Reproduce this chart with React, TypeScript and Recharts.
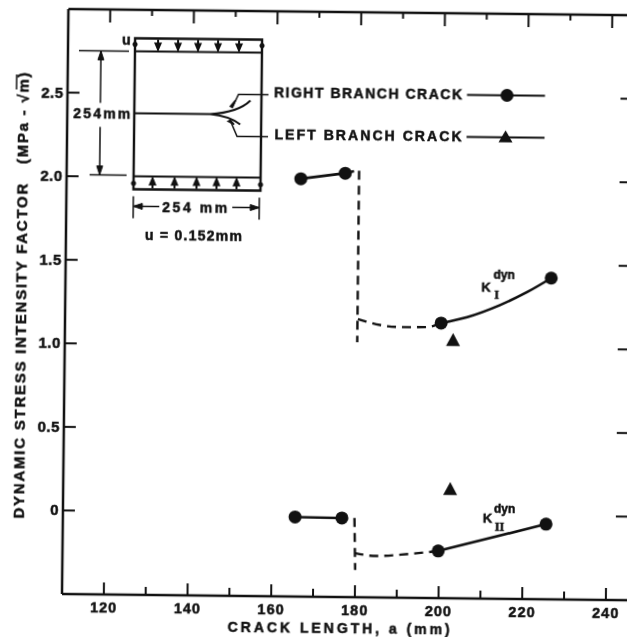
import React from 'react';
import { ComposedChart, Line, XAxis, YAxis, ReferenceLine, Customized } from 'recharts';

// values, corrected for its slight tilt (the whole chart is rotated back below)
const crackTicks = [120, 130, 140, 150, 160, 170, 180, 190, 200, 210, 220, 230, 240];
const stressTicks = [0, 0.5, 1, 1.5, 2, 2.5];
const stressLabels: Record<number, string> = { 0: '0', 0.5: '0.5', 1: '1.0', 1.5: '1.5', 2: '2.0', 2.5: '2.5' };

const k1Before = [{ x: 166, y: 2.0 }, { x: 176.6, y: 2.036 }];
const k1DashTop = [{ x: 176.6, y: 2.036 }, { x: 179.9, y: 2.056 }, { x: 179.9, y: 1.026 }];
const k1DashCurve = [{ x: 180, y: 1.164 }, { x: 185.3, y: 1.13 }, { x: 190.1, y: 1.119 }, { x: 196.5, y: 1.121 }, { x: 199.9, y: 1.146 }];
const k1After = [{ x: 199.9, y: 1.146 }, { x: 206.1, y: 1.183 }, { x: 213.9, y: 1.257 }, { x: 220.4, y: 1.337 }, { x: 226.1, y: 1.422 }];
const k1Right = [{ x: 166, y: 2.0 }, { x: 176.6, y: 2.036 }, { x: 199.9, y: 1.146 }, { x: 226.1, y: 1.422 }];
const k1Left = [{ x: 202.8, y: 1.045 }];

const k2Before = [{ x: 165.5, y: -0.024 }, { x: 176.7, y: -0.027 }];
const k2DashDrop = [{ x: 179.7, y: -0.026 }, { x: 180, y: -0.337 }];
const k2DashCurve = [{ x: 179.8, y: -0.236 }, { x: 185, y: -0.252 }, { x: 192.6, y: -0.238 }, { x: 199.8, y: -0.218 }];
const k2After = [{ x: 199.8, y: -0.218 }, { x: 225.5, y: -0.05 }];
const k2Right = [{ x: 165.5, y: -0.024 }, { x: 176.7, y: -0.027 }, { x: 199.8, y: -0.218 }, { x: 225.5, y: -0.05 }];
const k2Left = [{ x: 202.5, y: 0.154 }];

const INK = '#111';
const FONT = '"Liberation Sans", Arial, sans-serif';
const heavy = { stroke: INK, strokeWidth: 0.5, paintOrder: 'stroke' } as const;

const X_MIN = 110;
const X_MAX = 246;
const Y_MIN = -0.5;
const Y_MAX = 3;

const CircleDot = (p: any) => <circle key={p.index} cx={p.cx} cy={p.cy} r={6.5} fill={INK} />;
const TriangleDot = (p: any) => (
  <path key={p.index} d={`M${p.cx} ${p.cy - 7}L${p.cx + 7} ${p.cy + 6}L${p.cx - 7} ${p.cy + 6}Z`} fill={INK} />
);

const BottomLabel = (p: any) =>
  p.payload.value % 20 === 0 ? (
    <text x={p.x} y={p.y + 18} textAnchor="middle" fontFamily={FONT} fontWeight={700} fontSize={14.5} fill={INK} letterSpacing={1} {...heavy}>
      {p.payload.value}
    </text>
  ) : (
    <g />
  );

const LeftLabel = (p: any) => (
  <text x={p.x - 4} y={p.y + 5} textAnchor="end" fontFamily={FONT} fontWeight={700} fontSize={15} fill={INK} letterSpacing={0.5} {...heavy}>
    {stressLabels[p.payload.value]}
  </text>
);

const label = (x: number, y: number, s: string, size = 14, anchor: 'start' | 'middle' = 'start', len?: number, family = FONT) => (
  <text x={x} y={y} fontFamily={family} fontWeight={700} fontSize={size} fill={INK} textAnchor={anchor} textLength={len} lengthAdjust="spacing" {...heavy}>
    {s}
  </text>
);

// plot box in chart pixels, for the inward tick marks
const PLOT = { left: 62, right: 631, top: 9, bottom: 594 };
const px = (t: number) => PLOT.left + ((t - X_MIN) / (X_MAX - X_MIN)) * (PLOT.right - PLOT.left);
const py = (v: number) => PLOT.bottom - ((v - Y_MIN) / (Y_MAX - Y_MIN)) * (PLOT.bottom - PLOT.top);

const TickMarks = () => (
  <g stroke={INK} strokeWidth={2} fill="none">
    {crackTicks.map((t) => (
      <path key={`b${t}`} d={`M${px(t)} ${PLOT.bottom}V${PLOT.bottom - (t % 20 === 0 ? 12 : 8)}`} />
    ))}
    {crackTicks.map((t) => (
      <path key={`t${t}`} d={`M${px(t)} ${PLOT.top}V${PLOT.top + (t % 20 === 0 ? 13 : 6)}`} />
    ))}
    {stressTicks.map((t) => (
      <path key={`l${t}`} d={`M${PLOT.left} ${py(t)}H${PLOT.left + 12}`} />
    ))}
    {stressTicks.map((t) => (
      <path key={`r${t}`} d={`M${PLOT.right - 16} ${py(t)}H${PLOT.right}`} />
    ))}
  </g>
);

// specimen sketch, legend and axis titles
const Annotations = () => {
  const topLoads = [157, 177, 197, 217, 238];
  const bottomLoads = [153, 175, 197, 217, 237];
  const ROMAN = '"Liberation Serif", serif';
  return (
    <g>
      <TickMarks />
      <text
        transform="translate(23 296) rotate(-90)"
        textAnchor="middle"
        fontFamily={FONT}
        fontWeight={700}
        fontSize={15}
        fill={INK}
        textLength={446}
        lengthAdjust="spacing"
        style={{ whiteSpace: 'pre' }}
        {...heavy}
      >
        {'DYNAMIC STRESS INTENSITY FACTOR   (MPa - \u221Am)'}
      </text>
      <path d="M11 90V75" stroke={INK} strokeWidth={1.5} fill="none" />
      {label(339, 630, 'CRACK LENGTH, a   (mm)', 14, 'middle', 222)}

      <g transform="translate(-5 -1.5)" stroke={INK} fill="none" strokeWidth={2}>
        <path d="M134 39H261V190H134Z" strokeWidth={2.4} />
        <path d="M134 52H261M134 177H261" />
        {topLoads.map((x) => <path key={x} d={`M${x} 40V51M${x - 2.5} 44H${x + 2.5}L${x} 50Z`} strokeWidth={2} fill={INK} />)}
        {bottomLoads.map((x) => <path key={x} d={`M${x} 178V189M${x - 2.5} 185H${x + 2.5}L${x} 179Z`} strokeWidth={2} fill={INK} />)}
        <circle cx={134} cy={45} r={2.5} fill={INK} stroke="none" />
        <circle cx={261} cy={45} r={2.5} fill={INK} stroke="none" />
        <circle cx={134} cy={184} r={2.5} fill={INK} stroke="none" />
        <circle cx={261} cy={184} r={2.5} fill={INK} stroke="none" />
        <path d="M78 52H128M90 176H127" strokeWidth={1.5} />
        <path d="M100 52V104M100 128V176" strokeWidth={1.5} />
        <path d="M100 52l-3 9h6zM100 176l-3 -9h6z" fill={INK} strokeWidth={1} />
        <path d="M134 114H210C224 113 240 110 250 100M210 114C222 115 232 118 240 124" />
        <path d="M232 107L238 94H268M230 120L237 136H268" strokeWidth={1.5} />
        <path d="M232 107l-2 -1l5 -6zM230 120l-2 1l6 3z" fill={INK} strokeWidth={1.5} />
        <path d="M134 197V219M260 197V219M134 207H160M233 207H260" strokeWidth={1.5} />
        <path d="M134 207l9 -3v6zM260 207l-9 -3v6z" fill={INK} strokeWidth={1} />
      </g>
      <g transform="translate(-5 -1.5)">
        {label(121, 45, 'u', 14)}
        {label(73, 119, '254mm', 14, 'start', 57)}
        {label(163, 212, '254 mm', 14, 'start', 65)}
        {label(146, 240, 'u = 0.152mm', 14, 'start', 97)}
      </g>
      <g transform="translate(-5.5 -4.5)">
        {label(274, 99, 'RIGHT BRANCH CRACK', 14, 'start', 188)}
        {label(275, 141, 'LEFT BRANCH CRACK', 14, 'start', 187)}
        <path d="M467 95H545M467 137H545" stroke={INK} strokeWidth={2} fill="none" />
        <circle cx={507} cy={95} r={6.5} fill={INK} />
        <path d="M506 130L513 142H499Z" fill={INK} />
      </g>
      <g>
        {label(478, 287, 'K', 13)}
        {label(490, 274, 'dyn', 12)}
        {label(491, 294, 'I', 12, 'start', undefined, ROMAN)}
        {label(482, 518, 'K', 13)}
        {label(493, 508, 'dyn', 12)}
        {label(494, 526, 'II', 12, 'start', undefined, ROMAN)}
      </g>
    </g>
  );
};

const App = () => (
  <div style={{ position: 'absolute', left: 0, top: 0, width: 627, height: 637, overflow: 'hidden', background: '#fff' }}>
    <div style={{ transform: 'rotate(0.63deg)', transformOrigin: '62px 594px', width: 631, height: 637, filter: 'blur(0.4px)' }}>
      <ComposedChart width={631} height={637} margin={{ top: 9, right: 0, bottom: 0, left: 0 }}>
        <XAxis
          type="number"
          dataKey="x"
          domain={[X_MIN, X_MAX]}
          ticks={crackTicks}
          interval={0}
          height={43}
          tickSize={0}
          tickMargin={0}
          tick={BottomLabel}
          tickLine={false}
          axisLine={{ stroke: INK, strokeWidth: 2.5 }}
        />
        <YAxis
          type="number"
          domain={[Y_MIN, Y_MAX]}
          ticks={stressTicks}
          interval={0}
          width={62}
          tickSize={0}
          tickMargin={0}
          tick={LeftLabel}
          tickLine={false}
          axisLine={{ stroke: INK, strokeWidth: 2.5 }}
        />

        {/* top edge of the frame */}
        <ReferenceLine segment={[{ x: X_MIN, y: Y_MAX }, { x: X_MAX, y: Y_MAX }]} stroke={INK} strokeWidth={2.5} />

        <Line data={k1Before} dataKey="y" type="linear" stroke={INK} strokeWidth={2.6} dot={false} isAnimationActive={false} />
        <Line data={k1DashTop} dataKey="y" type="linear" stroke={INK} strokeWidth={2.4} strokeDasharray="9 6" dot={false} isAnimationActive={false} />
        <Line data={k1DashCurve} dataKey="y" type="monotone" stroke={INK} strokeWidth={2.4} strokeDasharray="9 6" dot={false} isAnimationActive={false} />
        <Line data={k1After} dataKey="y" type="monotone" stroke={INK} strokeWidth={2.6} dot={false} isAnimationActive={false} />
        <Line data={k1Right} dataKey="y" type="linear" stroke="none" dot={CircleDot} isAnimationActive={false} />
        <Line data={k1Left} dataKey="y" type="linear" stroke="none" dot={TriangleDot} isAnimationActive={false} />

        <Line data={k2Before} dataKey="y" type="linear" stroke={INK} strokeWidth={2.6} dot={false} isAnimationActive={false} />
        <Line data={k2DashDrop} dataKey="y" type="linear" stroke={INK} strokeWidth={2.4} strokeDasharray="9 6" dot={false} isAnimationActive={false} />
        <Line data={k2DashCurve} dataKey="y" type="monotone" stroke={INK} strokeWidth={2.4} strokeDasharray="9 6" dot={false} isAnimationActive={false} />
        <Line data={k2After} dataKey="y" type="linear" stroke={INK} strokeWidth={2.6} dot={false} isAnimationActive={false} />
        <Line data={k2Right} dataKey="y" type="linear" stroke="none" dot={CircleDot} isAnimationActive={false} />
        <Line data={k2Left} dataKey="y" type="linear" stroke="none" dot={TriangleDot} isAnimationActive={false} />

        <Customized component={<Annotations />} />
      </ComposedChart>
    </div>
  </div>
);

export default App;
